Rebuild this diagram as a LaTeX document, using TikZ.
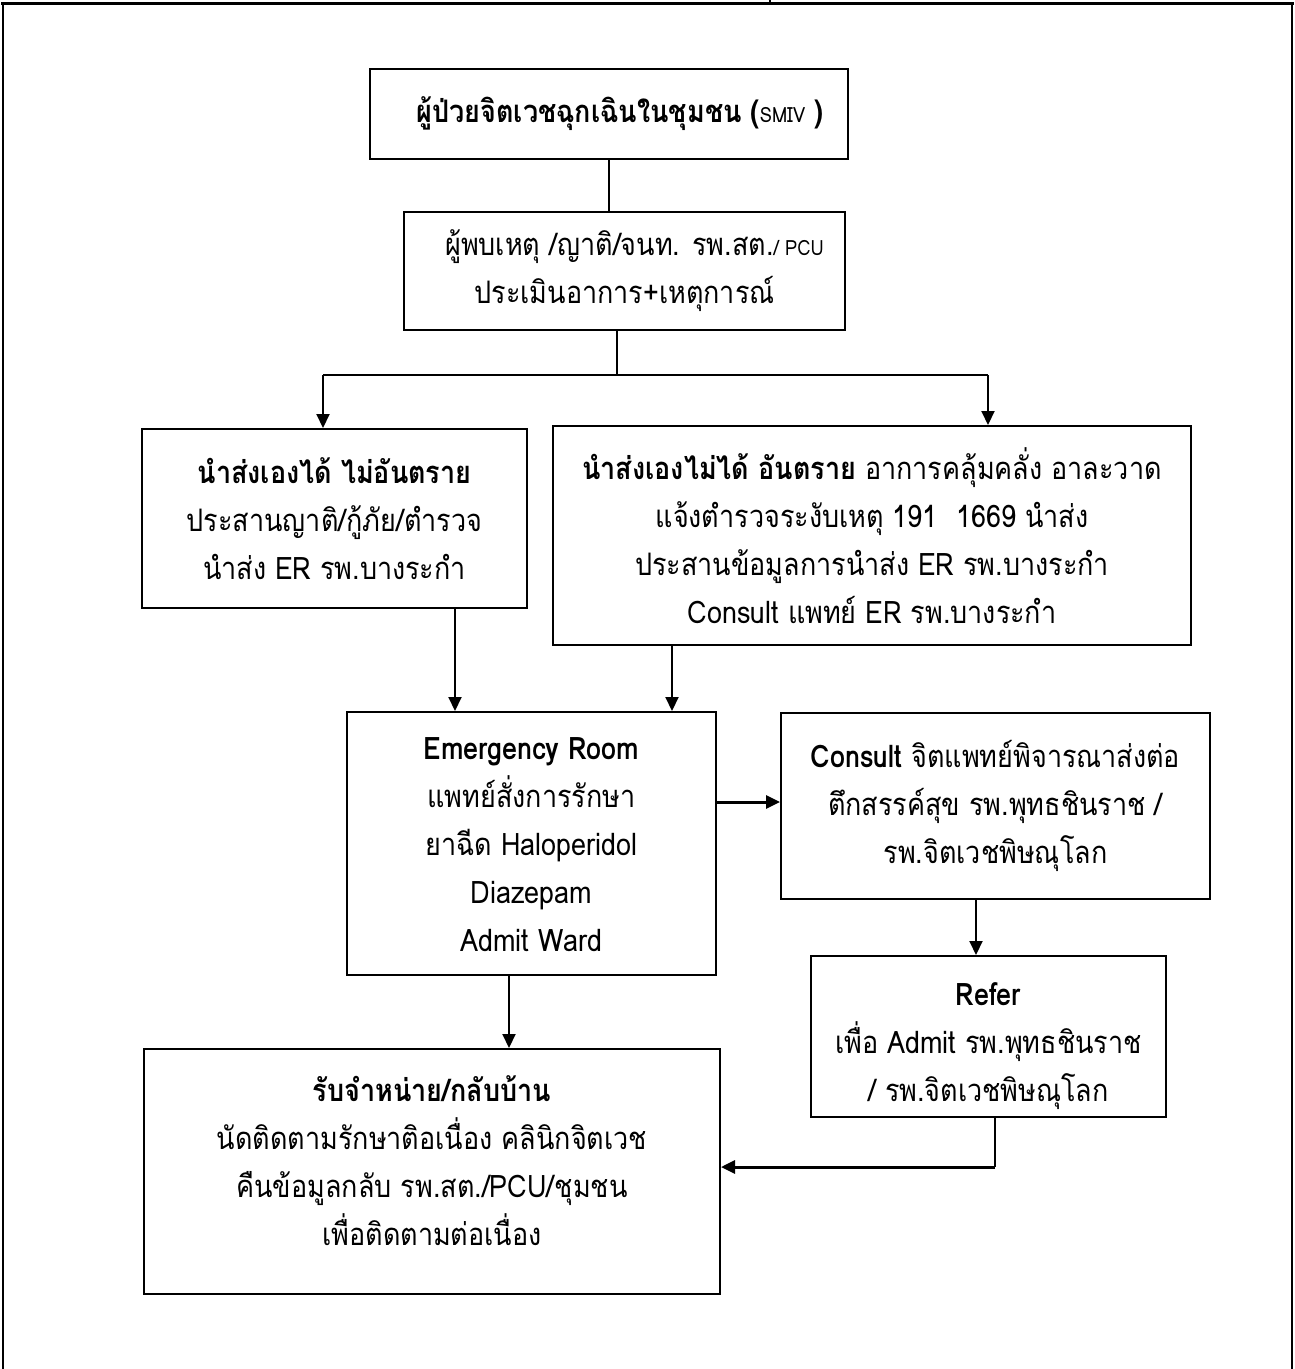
\documentclass[tikz,border=0pt]{standalone}
\usepackage{fontspec}
\setmainfont[Script=Thai, FakeStretch=0.87]{Loma}
\usetikzlibrary{arrows.meta}
\begin{document}
\begin{tikzpicture}[x=1pt,y=-1pt,
  box/.style={draw, line width=2pt, align=center, inner sep=0pt, font=\fontsize{31}{48}\selectfont},
  conn/.style={line width=2pt},
  arr/.style={line width=2pt, -{Triangle[length=14pt,width=13pt]}},
  frameline/.style={line width=1.5pt},
]
\useasboundingbox (0,0) rectangle (1295,1369);
% page frame (table cell borders)
\draw[line width=3pt] (1,3) -- (1294,3);
\draw[frameline] (3,3) -- (3,1369);
\draw[frameline] (1292,3) -- (1292,1369);
\draw[frameline] (770,0) -- (770,3);

% boxes
\node[box, minimum width=478, minimum height=90] (smiv) at (609,114)
  {\hspace*{22pt}{\bfseries ผู้ป่วยจิตเวชฉุกเฉินในชุมชน (}{\fontsize{21}{24}\selectfont SMIV}{\bfseries~)}};
\node[box, minimum width=441, minimum height=118] (finder) at (624.5,271)
  {\hspace*{20pt}ผู้พบเหตุ /ญาติ/จนท. รพ.สต.{\fontsize{21}{24}\selectfont / PCU}\\ประเมินอาการ+เหตุการณ์};
\node[box, minimum width=385, minimum height=179] (self) at (334.5,518.5)
  {\textbf{นำส่งเองได้ ไม่อันตราย}\\ประสานญาติ/กู้ภัย/ตำรวจ\\นำส่ง ER รพ.บางระกำ};
\node[box, minimum width=638, minimum height=219] (danger) at (872,535.5)
  {\textbf{นำส่งเองไม่ได้ อันตราย} อาการคลุ้มคลั่ง อาละวาด\\แจ้งตำรวจระงับเหตุ 191~ 1669 นำส่ง\\ประสานข้อมูลการนำส่ง ER รพ.บางระกำ\\Consult แพทย์ ER รพ.บางระกำ};
\node[box, minimum width=369, minimum height=263] (er) at (531.5,843.5)
  {\textbf{Emergency Room}\\แพทย์สั่งการรักษา\\ยาฉีด Haloperidol\\Diazepam\\Admit Ward\\[-50pt]};
\node[box, minimum width=429, minimum height=186] (consult) at (995.5,806)
  {\textbf{Consult} จิตแพทย์พิจารณาส่งต่อ\\ตึกสรรค์สุข รพ.พุทธชินราช /\\รพ.จิตเวชพิษณุโลก};
\node[box, minimum width=355, minimum height=161] (refer) at (988.5,1036.5)
  {\textbf{Refer}\\เพื่อ Admit รพ.พุทธชินราช\\/ รพ.จิตเวชพิษณุโลก\\[-60pt]};
\node[box, minimum width=576, minimum height=245] (home) at (432,1171.5)
  {\textbf{รับจำหน่าย/กลับบ้าน}\\นัดติดตามรักษาติอเนื่อง คลินิกจิตเวช\\คืนข้อมูลกลับ รพ.สต./PCU/ชุมชน\\เพื่อติดตามต่อเนื่อง\\[-26pt]};

% helper coordinates
\coordinate (split) at (617,375);
\coordinate (bl) at (323,375);
\coordinate (br) at (988,375);
\coordinate (xa) at (455,0);
\coordinate (xb) at (672,0);
\coordinate (yc) at (0,802);
\coordinate (xd) at (976,0);
\coordinate (xe) at (509,0);
\coordinate (corner) at (995,1167);

% connectors
\draw[conn] (smiv.south) -- (smiv.south |- finder.north);
\draw[conn] (finder.south -| split) -- (split);
\draw[conn] (bl) -- (br);
\draw[arr] (bl) -- (bl |- self.north);
\draw[arr] (br) -- (br |- danger.north);
\draw[arr] (self.south -| xa) -- (er.north -| xa);
\draw[arr] (danger.south -| xb) -- (er.north -| xb);
\draw[arr, line width=3pt] (er.east |- yc) -- (consult.west |- yc);
\draw[arr] (consult.south -| xd) -- (refer.north -| xd);
\draw[arr] (er.south -| xe) -- (home.north -| xe);
\draw[conn] (refer.south -| corner) -- (corner);
\draw[arr, line width=3pt] (corner) -- (home.east |- corner);
\end{tikzpicture}
\end{document}
